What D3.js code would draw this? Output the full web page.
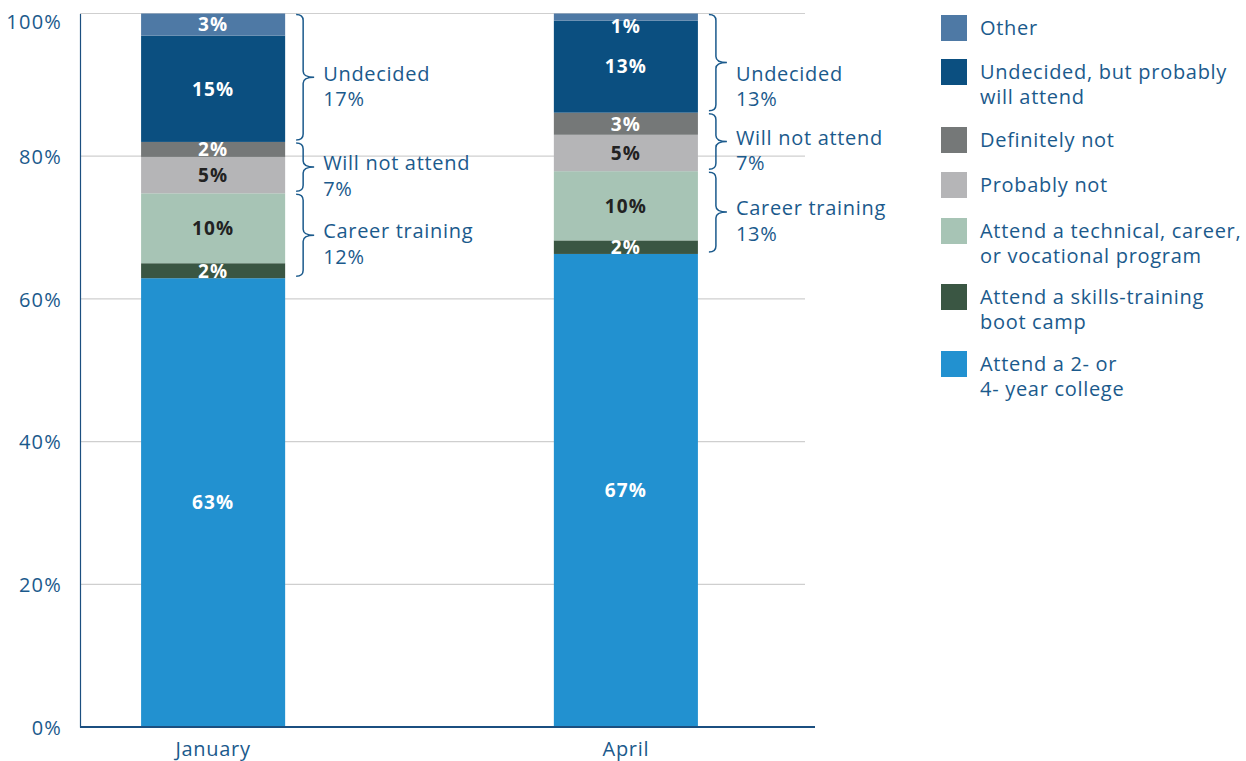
<!DOCTYPE html>
<html>
<head>
<meta charset="utf-8">
<script src="https://cdn.jsdelivr.net/npm/d3@7"></script>
<style>
  html, body { margin: 0; padding: 0; background: #fff; }
  svg text { font-family: "Open Sans", Lato, sans-serif; }
</style>
</head>
<body>
<svg id="chart" width="1246" height="761"></svg>
<script>
// ---- data ----
const months = ["January", "April"];
const seriesNames = [
  "Attend a 2- or 4- year college",
  "Attend a skills-training boot camp",
  "Attend a technical, career, or vocational program",
  "Probably not",
  "Definitely not",
  "Undecided, but probably will attend",
  "Other"
];
const legendLines = [
  ["Attend a 2- or", "4- year college"],
  ["Attend a skills-training", "boot camp"],
  ["Attend a technical, career,", "or vocational program"],
  ["Probably not"],
  ["Definitely not"],
  ["Undecided, but probably", "will attend"],
  ["Other"]
];
const colors = ["#2291d0", "#3a5643", "#a7c4b5", "#b5b5b7", "#757878", "#0b4f80", "#4e79a5"];
const labelColors = ["#fff", "#fff", "#222", "#222", "#fff", "#fff", "#fff"];
const januaryValues = [62.9, 2.1, 9.8, 5.1, 2.1, 14.9, 3.1];
const aprilValues   = [66.3, 1.9, 9.7, 5.1, 3.1, 12.9, 1.0];
const januaryLabels = ["63%", "2%", "10%", "5%", "2%", "15%", "3%"];
const aprilLabels   = ["67%", "2%", "10%", "5%", "3%", "13%", "1%"];
const groupNames = ["Career training", "Will not attend", "Undecided"];
const groupSeries = [[1, 2], [3, 4], [5, 6]];
const januaryGroupLabels = ["12%", "7%", "17%"];
const aprilGroupLabels = ["13%", "7%", "13%"];
const yTicks = [0, 20, 40, 60, 80, 100];

(function () {
const values = [januaryValues, aprilValues];
const labels = [januaryLabels, aprilLabels];
const groupLabels = [januaryGroupLabels, aprilGroupLabels];

// ---- layout ----
const svg = d3.select("#chart");
const textColor = "#1b5a8c";
const axisColor = "#1b4f80";
const fontSize = 20;
const ls = "0.7px";
const pLeft = 80, pTop = 13.5, pBottom = 727;

const y = d3.scaleLinear().domain([0, 100]).range([pBottom, pTop]);
const x = d3.scaleBand().domain(months).range([80, 759]).paddingInner(0.651).paddingOuter(0.148);

// gridlines
svg.append("g").selectAll("line").data(yTicks.filter(t => t > 0)).join("line")
  .attr("x1", pLeft).attr("x2", 805)
  .attr("y1", d => y(d)).attr("y2", d => y(d))
  .attr("stroke", "#cfcfcf").attr("stroke-width", 1.2);

// y axis tick labels
const yAxis = d3.axisLeft(y).tickValues(yTicks).tickFormat(d => d + "%").tickSize(0).tickPadding(18);
const gy = svg.append("g").attr("transform", `translate(${pLeft},0)`).call(yAxis);
gy.select(".domain").attr("stroke", axisColor).attr("stroke-width", 1.2);
gy.selectAll("text").attr("fill", textColor).attr("font-size", fontSize)
  .style("font-family", "'Open Sans', Lato, sans-serif")
  .style("letter-spacing", "1.2px")
  .attr("dy", d => d === 100 ? "0.75em" : "0.36em");

// bars
const stacks = months.map((m, i) => {
  let acc = 0;
  return values[i].map((v, j) => { const s = { m, i, j, y0: acc, y1: acc + v, label: labels[i][j] }; acc += v; return s; });
});
const barG = svg.append("g");
stacks.forEach(st => {
  barG.selectAll(null).data(st).join("rect")
    .attr("x", d => x(d.m)).attr("width", x.bandwidth())
    .attr("y", d => y(d.y1)).attr("height", d => y(d.y0) - y(d.y1))
    .attr("fill", d => colors[d.j]);
});
stacks.forEach(st => {
  barG.selectAll(null).data(st).join("text")
    .attr("x", d => x(d.m) + x.bandwidth() / 2)
    .attr("y", d => {
      const h = y(d.y0) - y(d.y1);
      return h < 10 ? y(d.y1) + 12.5 : (y(d.y0) + y(d.y1)) / 2;
    })
    .attr("dy", "0.36em")
    .attr("text-anchor", "middle")
    .attr("font-size", 19).attr("font-weight", 700)
    .style("letter-spacing", "1.2px")
    .attr("fill", d => labelColors[d.j])
    .text(d => d.label);
});

// bottom axis line
svg.append("line").attr("x1", pLeft).attr("x2", 815).attr("y1", pBottom).attr("y2", pBottom)
  .attr("stroke", axisColor).attr("stroke-width", 2);
// x labels
svg.append("g").selectAll("text").data(months).join("text")
  .attr("x", d => x(d) + x.bandwidth() / 2).attr("y", 748.5).attr("dy", "0.36em")
  .attr("text-anchor", "middle").attr("fill", textColor).attr("font-size", fontSize)
  .style("letter-spacing", ls)
  .text(d => d);

// braces
function bracePath(x0, t, b) {
  const xv = x0 + 7, xp = x0 + 18, mid = (t + b) / 2, r = 6;
  return `M${x0},${t} Q${xv},${t} ${xv},${t + r} L${xv},${mid - r} Q${xv},${mid} ${xp},${mid}` +
         ` Q${xv},${mid} ${xv},${mid + r} L${xv},${b - r} Q${xv},${b} ${x0},${b}`;
}
months.forEach((m, i) => {
  const st = stacks[i];
  const bx = x(m) + x.bandwidth() + 11;
  groupSeries.forEach((gs, g) => {
    const lo = st[gs[0]].y0, hi = st[gs[gs.length - 1]].y1;
    const t = y(hi) + 1, b = y(lo) - 2;
    svg.append("path").attr("d", bracePath(bx, t, b))
      .attr("fill", "none").attr("stroke", textColor).attr("stroke-width", 1.5);
    const mid = (t + b) / 2;
    const ty = Math.max(mid - 4, y(100) + 60);
    const txt = svg.append("text").attr("x", bx + 27).attr("y", ty)
      .attr("fill", textColor).attr("font-size", fontSize).style("letter-spacing", ls);
    txt.append("tspan").attr("x", bx + 27).attr("dy", "0.36em").text(groupNames[g]);
    txt.append("tspan").attr("x", bx + 27).attr("dy", 25.5).text(groupLabels[i][g]);
  });
});

// legend
const legendY = [364, 297, 231, 185, 140, 72, 28];
const lg = svg.append("g");
seriesNames.forEach((n, j) => {
  lg.append("rect").attr("x", 941).attr("y", legendY[j] - 13)
    .attr("width", 26).attr("height", 26).attr("fill", colors[j]);
  const t = lg.append("text").attr("x", 980).attr("y", legendY[j])
    .attr("fill", textColor).attr("font-size", fontSize).style("letter-spacing", ls);
  legendLines[j].forEach((l, k) => t.append("tspan").attr("x", 980).attr("dy", k === 0 ? "0.36em" : 25).text(l));
});
})();
</script>
</body>
</html>
